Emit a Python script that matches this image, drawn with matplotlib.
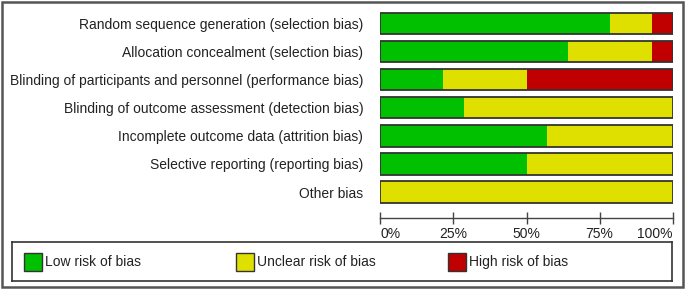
import numpy as np
import matplotlib
matplotlib.use('Agg')
import matplotlib.pyplot as plt
from matplotlib.patches import Rectangle

plt.rcParams['font.family'] = ['Liberation Sans', 'DejaVu Sans']

# risk of bias domains, top to bottom
domains = [
    'Random sequence generation (selection bias)',
    'Allocation concealment (selection bias)',
    'Blinding of participants and personnel (performance bias)',
    'Blinding of outcome assessment (detection bias)',
    'Incomplete outcome data (attrition bias)',
    'Selective reporting (reporting bias)',
    'Other bias',
]
# percent of studies per judgement
low_risk = [78.6, 64.3, 21.4, 28.6, 57.1, 50.0, 0.0]
unclear_risk = [14.3, 28.6, 28.6, 71.4, 42.9, 50.0, 100.0]
high_risk = [7.1, 7.1, 50.0, 0.0, 0.0, 0.0, 0.0]

judgements = ['Low risk of bias', 'Unclear risk of bias', 'High risk of bias']
colors = ['#00c000', '#e0e000', '#c00000']
x_ticks = [0, 25, 50, 75, 100]
x_ticklabels = ['0%', '25%', '50%', '75%', '100%']

W, H = 685, 290
fig = plt.figure(figsize=(W / 100, H / 100), dpi=100)

def px_axes(x0, y0, x1, y1):
    # pixel box (top-left origin) -> figure axes
    return fig.add_axes([x0 / W, 1 - y1 / H, (x1 - x0) / W, (y1 - y0) / H])

ax = px_axes(380.5, 8.7, 672.5, 217.7)
y = np.arange(len(domains))
left = np.zeros(len(domains))
for vals, c in zip([low_risk, unclear_risk, high_risk], colors):
    ax.barh(y, vals, left=left, height=0.76, color=c, edgecolor='none')
    left += np.array(vals)
# outline around each full bar
ax.barh(y, left, height=0.76, color='none', edgecolor='#333333', linewidth=1.3)

ax.set_xlim(0, 100)
ax.set_ylim(6.91, -0.52)
ax.set_yticks(y)
ax.set_yticklabels(domains, fontsize=10, color='#222222')
ax.tick_params(axis='y', length=0, pad=12.5)
ax.set_xticks(x_ticks)
ax.set_xticklabels(x_ticklabels, fontsize=10, color='#222222')
labs = ax.get_xticklabels()
labs[0].set_ha('left')
labs[-1].set_ha('right')
ax.tick_params(axis='x', direction='inout', length=8, width=1, color='#444444', pad=3)
for s in ['left', 'right', 'top']:
    ax.spines[s].set_visible(False)
ax.spines['bottom'].set_color('#444444')
ax.spines['bottom'].set_linewidth(1)

# legend box
lax = px_axes(12, 242, 672, 281)
lax.set_xlim(0, 660)
lax.set_ylim(39, 0)
lax.set_xticks([])
lax.set_yticks([])
for s in lax.spines.values():
    s.set_color('#333333')
    s.set_linewidth(1.2)
for i, (lab, c) in enumerate(zip(judgements, colors)):
    x0 = 12 + i * 212
    lax.add_patch(Rectangle((x0, 10.5), 18, 18, facecolor=c, edgecolor='#333333', linewidth=1))
    lax.text(x0 + 21, 20, lab, fontsize=10, color='#222222', va='center', ha='left')

# outer frame
fig.patches.append(Rectangle((2 / W, 3 / H), (W - 4) / W, (H - 5) / H, transform=fig.transFigure,
                             facecolor='none', edgecolor='#555555', linewidth=1.8))

fig.savefig('out.png', dpi=100)
